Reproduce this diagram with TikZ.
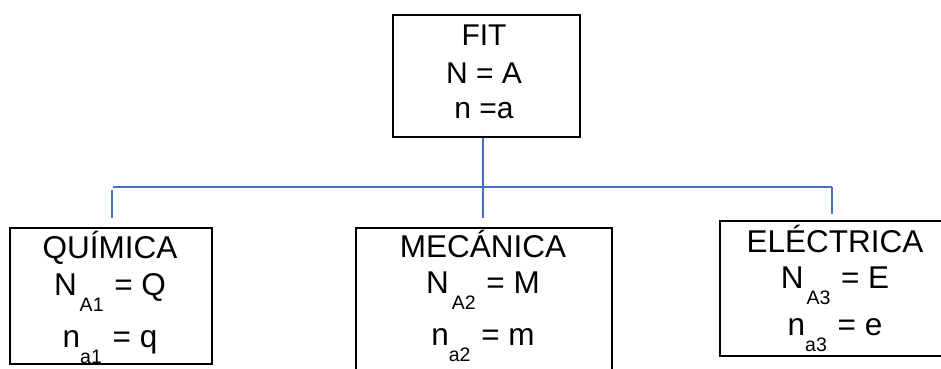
\documentclass[tikz,border=0pt]{standalone}
\usepackage{fontspec}
\setmainfont{Liberation Sans}
\definecolor{lineblue}{HTML}{4472C4}
\newcommand{\lowsub}[2][-16.5pt]{\raisebox{#1}{\fontsize{19.5}{19.5}\selectfont #2}}
\begin{document}
\begin{tikzpicture}[x=1pt,y=-1pt,
  box/.style={draw=black, line width=1.8pt, inner sep=0pt, anchor=north west},
  txt/.style={font=\fontsize{30}{30}\selectfont, anchor=base, inner sep=0pt},
  btxt/.style={font=\fontsize{31.5}{31.5}\selectfont, anchor=base, inner sep=0pt},
  conn/.style={draw=lineblue, line width=1.8pt}]
\useasboundingbox (0,0) rectangle (941,368);
% boxes
\node[box, minimum width=187pt, minimum height=122pt] (fit) at (392,14) {};
\node[box, minimum width=202pt, minimum height=136pt] (qui) at (9,227) {};
\node[box, minimum width=256pt, minimum height=150pt] (mec) at (355,227) {};
\node[box, minimum width=226pt, minimum height=135pt] (ele) at (719,220) {};
% texts
\node[txt] (fit1) at (484,45) {FIT};
\node[txt] (fit2) at (484,83) {N = A};
\node[txt] (fit3) at (484,118) {n =a};
\node[btxt] (qui1) at (110,258) {QUÍMICA};
\node[btxt] (qui2) at (110,295) {N\hspace{3pt}\lowsub{A1}\hspace{2pt} = Q};
\node[btxt] (qui3) at (110,347) {n\lowsub[-16pt]{a1}\hspace{2pt} = q};
\node[btxt] (mec1) at (483,257) {MECÁNICA};
\node[btxt] (mec2) at (483,293) {N\hspace{3pt}\lowsub{A2}\hspace{2pt} = M};
\node[btxt] (mec3) at (483,345) {n\lowsub[-16pt]{a2}\hspace{2pt} = m};
\node[btxt] (ele1) at (835,252) {ELÉCTRICA};
\node[btxt] (ele2) at (835,288) {N\hspace{3pt}\lowsub{A3}\hspace{2pt} = E};
\node[btxt] (ele3) at (835,335) {n\lowsub[-16pt]{a3}\hspace{2pt} = e};
% connectors
\coordinate (hl) at (113,187);
\coordinate (hr) at (832,187);
\coordinate (mbot) at (483,218);
\coordinate (ltop) at (112,190);
\coordinate (lbot) at (112,218);
\coordinate (rbot) at (832,214);
\draw[conn] (hl) -- (hr);
\draw[conn] (mbot |- fit.south) -- (mbot);
\draw[conn] (ltop) -- (lbot);
\draw[conn] (hr) -- (rbot);
\end{tikzpicture}
\end{document}
